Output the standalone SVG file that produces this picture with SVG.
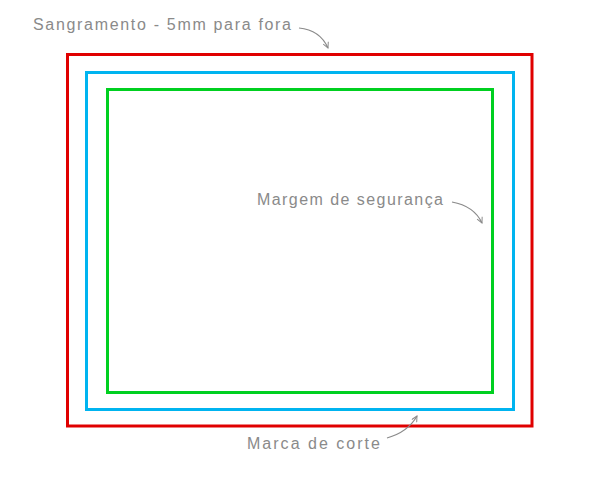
<svg xmlns="http://www.w3.org/2000/svg" width="600" height="481" viewBox="0 0 600 481">
<style>
.lbl{font-family:"Liberation Sans",Arial,sans-serif;font-size:16px;fill:#8a8a8a;}
.arr{fill:none;stroke:#8a8a8a;stroke-width:1.2;marker-end:url(#ah);}
</style>
<defs>
<marker id="ah" viewBox="0 0 10 10" refX="9" refY="5" markerWidth="7" markerHeight="7" orient="auto" markerUnits="userSpaceOnUse">
<path d="M1,1 L9,5 L1,9" fill="none" stroke="#8a8a8a" stroke-width="1.4"/>
</marker>
</defs>
<rect width="600" height="481" fill="#ffffff"/>
<g id="sangramento">
<rect x="67.5" y="54.5" width="464.5" height="371.5" fill="none" stroke="#e00000" stroke-width="3"/>
</g>
<g id="corte">
<rect x="86.5" y="72.5" width="427" height="337" fill="none" stroke="#00b4f0" stroke-width="3"/>
</g>
<g id="seguranca">
<rect x="107.5" y="89.5" width="385" height="303" fill="none" stroke="#00d020" stroke-width="3"/>
</g>
<g id="labels">
<text class="lbl" x="33" y="30" textLength="258" lengthAdjust="spacing">Sangramento - 5mm para fora</text>
<text class="lbl" x="257" y="205" textLength="186" lengthAdjust="spacing">Margem de segurança</text>
<text class="lbl" x="247" y="449" textLength="133" lengthAdjust="spacing">Marca de corte</text>
</g>
<g id="connectors">
<path class="arr" d="M299,28 Q320,30 328,48"/>
<path class="arr" d="M452,202 Q474,206 482,223"/>
<path class="arr" d="M387,438 Q408,432 417,416"/>
</g>
</svg>
